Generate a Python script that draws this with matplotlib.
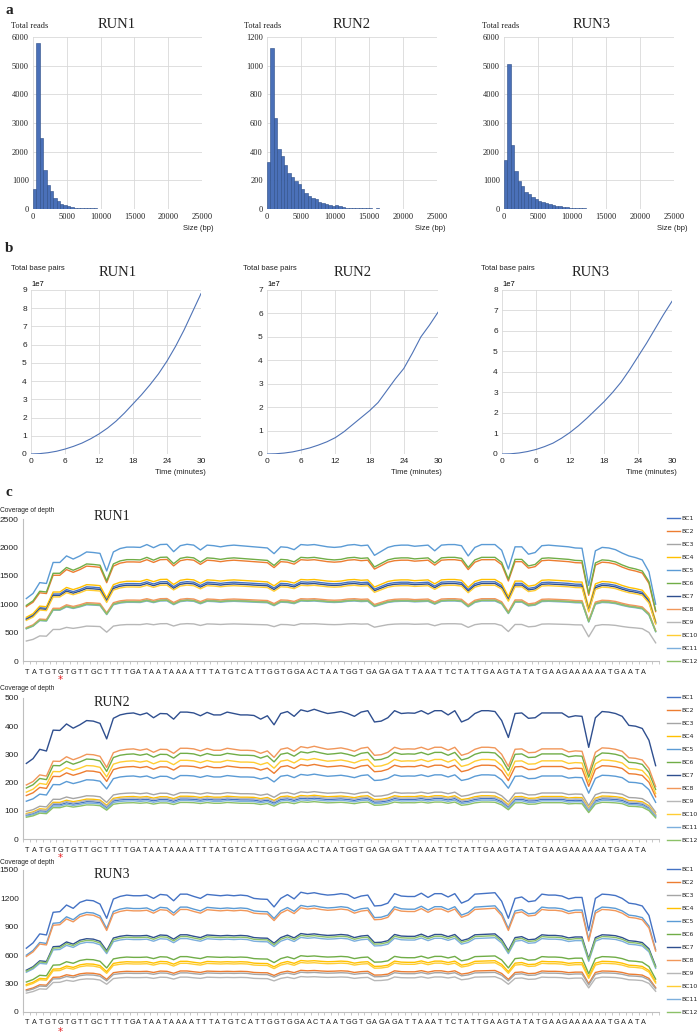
import numpy as np
import matplotlib
matplotlib.use("Agg")
import matplotlib.pyplot as plt

W, H = 697, 1034

SERIF = ["Liberation Serif", "DejaVu Serif"]
SANS = ["Liberation Sans Narrow", "Liberation Sans", "DejaVu Sans"]

BAR = "#4A70B8"
BAR_EDGE = "#2B4C86"
LINE_B = "#4F73B6"
GRID = "#D9D9D9"
AXIS = "#BFBFBF"
TXT = "#222222"

# ---------------- panel a: read length histograms (500 bp bins) -------------
bin_width = 500
bin_left = np.arange(0, 25000, bin_width)
run1_reads = [700, 5800, 2480, 1350, 830, 620, 400, 270, 190, 150,
              100, 70, 50, 40, 30, 25, 20, 28, 22, 10,
              8, 5, 5, 3, 2, 2, 1, 1, 0, 0,
              0, 0, 0, 0, 0, 0, 0, 0, 0, 0,
              0, 0, 0, 0, 0, 0, 0, 0, 0, 0]
run2_reads = [325, 1120, 635, 420, 370, 305, 250, 225, 195, 175,
              140, 110, 90, 75, 70, 48, 40, 35, 30, 22,
              28, 18, 15, 10, 8, 6, 5, 4, 5, 4,
              6, 3, 4, 2, 3, 2, 2, 1, 2, 1,
              1, 1, 3, 1, 2, 1, 0, 0, 0, 0]
run3_reads = [1700, 5050, 2230, 1320, 990, 800, 600, 540, 430, 350,
              280, 230, 200, 170, 140, 110, 90, 70, 55, 50,
              40, 30, 25, 20, 15, 12, 10, 8, 10, 6,
              4, 3, 2, 1, 1, 0, 0, 0, 0, 0,
              0, 0, 0, 0, 0, 0, 0, 0, 0, 0]
reads_ymax = [6000, 1200, 6000]
reads_ystep = [1000, 200, 1000]

# ---------------- panel b: cumulative base pairs (units of 1e7) -------------
minutes = [0, 1.5, 3, 4.5, 6, 7.5, 9, 10.5, 12, 13.5, 15,
           16.5, 18, 19.5, 21, 22.5, 24, 25.5, 27, 28.5, 30]
run1_bp = [0, 0.02, 0.07, 0.15, 0.27, 0.42, 0.6, 0.83, 1.1, 1.42, 1.8,
           2.25, 2.75, 3.25, 3.8, 4.4, 5.1, 5.9, 6.8, 7.8, 8.8]
run2_bp = [0, 0.01, 0.04, 0.09, 0.17, 0.26, 0.38, 0.52, 0.7, 0.95, 1.25,
           1.55, 1.85, 2.2, 2.7, 3.2, 3.65, 4.3, 5.0, 5.5, 6.05]
run3_bp = [0, 0.01, 0.05, 0.12, 0.22, 0.36, 0.53, 0.77, 1.05, 1.38, 1.75,
           2.15, 2.55, 3.0, 3.5, 4.1, 4.75, 5.4, 6.1, 6.8, 7.45]
bp_ymax = [9, 7, 8]

# ---------------- panel c: coverage depth per position ----------------------
seq = "TATGTGTGTTGCTTTTGATAATAAAATTTATGTCATTGGTGGAACTAATGGTGAGAGATTAAATTCTATTGAAGTATATGAAGAAAAAATGAATA"
barcodes = ["BC%d" % i for i in range(1, 13)]
bc_colors = ["#4472C4", "#ED7D31", "#A5A5A5", "#FFC000", "#5B9BD5", "#70AD47",
             "#2F4F8F", "#F1975A", "#B7B7B7", "#FFCD33", "#7CAFDD", "#8CC168"]

# depth of the top barcode in each run
run1_profile = [1100, 1190, 1380, 1365, 1735, 1735, 1850, 1795, 1850, 1920,
                1910, 1895, 1585, 1920, 1980, 2005, 2005, 2000, 2050, 1995,
                2050, 2055, 1925, 2030, 2055, 2040, 1955, 2040, 2030, 2010,
                2030, 2040, 2030, 2020, 2010, 2000, 1990, 1890, 2010, 2000,
                1960, 2050, 2040, 2050, 2030, 2010, 2000, 2010, 2040, 2050,
                2030, 2040, 1860, 1930, 2000, 2030, 2040, 2040, 2020, 2030,
                2040, 1940, 2040, 2050, 2050, 2030, 1850, 2000, 2050, 2050,
                2050, 1950, 1620, 2010, 2010, 1880, 1910, 2030, 2040, 2030,
                2020, 2010, 1990, 1985, 1330, 1940, 2000, 1990, 1960, 1900,
                1850, 1820, 1780, 1570, 1000]
run2_profile = [268, 285, 318, 312, 386, 385, 408, 393, 405, 420,
                418, 410, 355, 428, 440, 445, 447, 440, 447, 430,
                445, 444, 425, 450, 450, 447, 437, 449, 440, 440,
                450, 445, 440, 440, 438, 425, 437, 405, 445, 452,
                435, 458, 452, 460, 452, 445, 448, 452, 445, 435,
                450, 455, 415, 418, 430, 455, 445, 447, 446, 455,
                443, 455, 455, 440, 455, 415, 425, 445, 455, 455,
                452, 420, 360, 445, 447, 428, 430, 447, 447, 447,
                447, 432, 437, 435, 325, 430, 452, 450, 445, 435,
                403, 400, 392, 350, 260]
run3_profile = [674, 730, 825, 814, 1053, 1060, 1130, 1095, 1158, 1182,
                1175, 1140, 990, 1193, 1221, 1235, 1228, 1228, 1235, 1200,
                1242, 1235, 1175, 1245, 1245, 1221, 1200, 1242, 1235, 1228,
                1235, 1228, 1235, 1228, 1200, 1193, 1190, 1110, 1200, 1240,
                1195, 1265, 1250, 1260, 1245, 1235, 1240, 1250, 1240, 1200,
                1225, 1235, 1120, 1125, 1150, 1250, 1225, 1220, 1220, 1255,
                1210, 1250, 1250, 1215, 1250, 1150, 1180, 1245, 1250, 1255,
                1260, 1170, 990, 1200, 1215, 1165, 1175, 1245, 1235, 1235,
                1225, 1195, 1210, 1210, 860, 1200, 1245, 1240, 1230, 1200,
                1150, 1140, 1120, 1020, 740]
# each barcode's depth relative to the top barcode (BC1..BC12)
run1_scale = [0.68, 0.87, 0.525, 0.70, 1.0, 0.89, 0.665, 0.535, 0.32, 0.65, 0.515, 0.52]
run2_scale = [0.315, 0.575, 0.365, 0.337, 0.5, 0.675, 1.0, 0.715, 0.326, 0.62, 0.303, 0.288]
run3_scale = [1.0, 0.348, 0.332, 0.43, 0.89, 0.47, 0.655, 0.87, 0.296, 0.413, 0.623, 0.64]
cov_ymax = [2500, 500, 1500]
cov_ystep = [500, 100, 300]
star_pos = 6  # marked base in the sequence

fig = plt.figure(figsize=(W / 100, H / 100), dpi=100)


def px_axes(l, t, r, b):
    return fig.add_axes([l / W, 1 - b / H, (r - l) / W, (b - t) / H])


def ftext(x, y, s, **kw):
    kw.setdefault("va", "center")
    kw.setdefault("color", TXT)
    fig.text(x / W, 1 - y / H, s, **kw)


def set_tick_font(ax, family, size):
    for lab in ax.get_xticklabels() + ax.get_yticklabels():
        lab.set_family(family)
        lab.set_fontsize(size)
        lab.set_color(TXT)


# ---- panel a
ftext(5, 10, "a", family=SERIF, fontsize=11, fontweight="bold", ha="left")
a_boxes = [(33, 37, 202, 209), (267, 37, 437, 209), (504, 37, 674, 209)]
a_title_x = [117, 352, 592]
a_ylab_x = [30, 263, 501]
a_size_x = [198, 430, 672]
for i, reads in enumerate([run1_reads, run2_reads, run3_reads]):
    ax = px_axes(*a_boxes[i])
    ax.bar(bin_left, reads, width=bin_width, align="edge", color=BAR,
           edgecolor=BAR_EDGE, linewidth=0.4)
    ax.set_xlim(0, 25000)
    ax.set_ylim(0, reads_ymax[i])
    ax.set_xticks(range(0, 25001, 5000))
    ax.set_yticks(range(0, reads_ymax[i] + 1, reads_ystep[i]))
    ax.grid(color=GRID, lw=0.6)
    ax.set_axisbelow(True)
    for sp in ax.spines.values():
        sp.set_visible(False)
    ax.tick_params(length=0, pad=3)
    set_tick_font(ax, SERIF, 6)
    ftext(a_title_x[i], 25, "RUN%d" % (i + 1), family=SERIF, fontsize=10.5, ha="center")
    ftext(a_ylab_x[i], 26, "Total reads", family=SERIF, fontsize=6, ha="center")
    ftext(a_size_x[i], 228, "Size (bp)", family=SANS, fontsize=5.5, ha="center")

# ---- panel b
ftext(5, 248, "b", family=SERIF, fontsize=11, fontweight="bold", ha="left")
b_boxes = [(31, 290, 201, 454), (267, 290, 438, 454), (502, 290, 672, 454)]
b_title_x = [118, 353, 591]
b_ylab_x = [38, 270, 508]
b_time_x = [180, 416, 651]
for i, bp in enumerate([run1_bp, run2_bp, run3_bp]):
    ax = px_axes(*b_boxes[i])
    ax.plot(minutes, np.array(bp) * 1e7, color=LINE_B, lw=0.8)
    ax.set_xlim(0, 30)
    ax.set_ylim(0, bp_ymax[i] * 1e7)
    ax.set_xticks(range(0, 31, 6))
    ax.set_yticks(np.arange(0, bp_ymax[i] + 1) * 1e7)
    ax.grid(color=GRID, lw=0.6)
    ax.set_axisbelow(True)
    for sp in ax.spines.values():
        sp.set_visible(False)
    ax.tick_params(length=0, pad=3)
    set_tick_font(ax, SANS, 6)
    off = ax.yaxis.get_offset_text()
    off.set_fontsize(5.5)
    off.set_family(SANS)
    ftext(b_title_x[i], 272, "RUN%d" % (i + 1), family=SERIF, fontsize=10.5, ha="center")
    ftext(b_ylab_x[i], 268, "Total base pairs", family=SANS, fontsize=5.5, ha="center")
    ftext(b_time_x[i], 472, "Time (minutes)", family=SANS, fontsize=5.5, ha="center")

# ---- panel c
ftext(5, 492, "c", family=SERIF, fontsize=11, fontweight="bold", ha="left")
c_boxes = [(23, 519, 659, 661), (23, 698, 659, 839), (23, 870, 659, 1012)]
c_ylab_y = [510, 688, 862]
c_title_y = [516, 702, 875]
pos = np.arange(1, len(seq) + 1)
letter_x = np.linspace(0.007, 0.975, len(seq))
for i, (prof, scale) in enumerate([(run1_profile, run1_scale),
                                   (run2_profile, run2_scale),
                                   (run3_profile, run3_scale)]):
    ax = px_axes(*c_boxes[i])
    hpx = c_boxes[i][3] - c_boxes[i][1]
    prof = np.array(prof, dtype=float)
    handles = []
    for b in range(12):
        ln, = ax.plot(pos, prof * scale[b], color=bc_colors[b], lw=1.0)
        handles.append(ln)
    ax.set_xlim(0.5, len(seq) + 0.5)
    ax.set_ylim(0, cov_ymax[i])
    ax.set_yticks(range(0, cov_ymax[i] + 1, cov_ystep[i]))
    ax.set_xticks(np.arange(0.5, len(seq) + 1, 1))
    ax.set_xticklabels([])
    ax.tick_params(axis="x", length=2.5, width=0.6, color=AXIS)
    ax.tick_params(axis="y", length=0, pad=3)
    set_tick_font(ax, SANS, 6)
    for s in ["top", "right"]:
        ax.spines[s].set_visible(False)
    for s in ["left", "bottom"]:
        ax.spines[s].set_color(AXIS)
        ax.spines[s].set_linewidth(0.8)
    for k, ch in enumerate(seq):
        ax.text(letter_x[k], -11 / hpx, ch, transform=ax.transAxes, ha="center",
                va="center", fontsize=5.2, family=SANS, color=TXT)
    ax.text(letter_x[star_pos - 1], -17.5 / hpx, r"$*$", transform=ax.transAxes,
            ha="center", va="center", fontsize=7.5, color="#E8262A")
    ax.legend(handles, barcodes, loc="upper left", bbox_to_anchor=(1.0126, 1.021),
              frameon=False, fontsize=4.5, handlelength=2.1, handletextpad=0.25,
              labelspacing=1.22, borderaxespad=0, borderpad=0, labelcolor=TXT)
    ftext(0, c_ylab_y[i], "Coverage of depth", family=SANS, fontsize=4.8, ha="left")
    ftext(112, c_title_y[i], "RUN%d" % (i + 1), family=SERIF, fontsize=10, ha="center")

fig.savefig("out.png", dpi=100, facecolor="white")
